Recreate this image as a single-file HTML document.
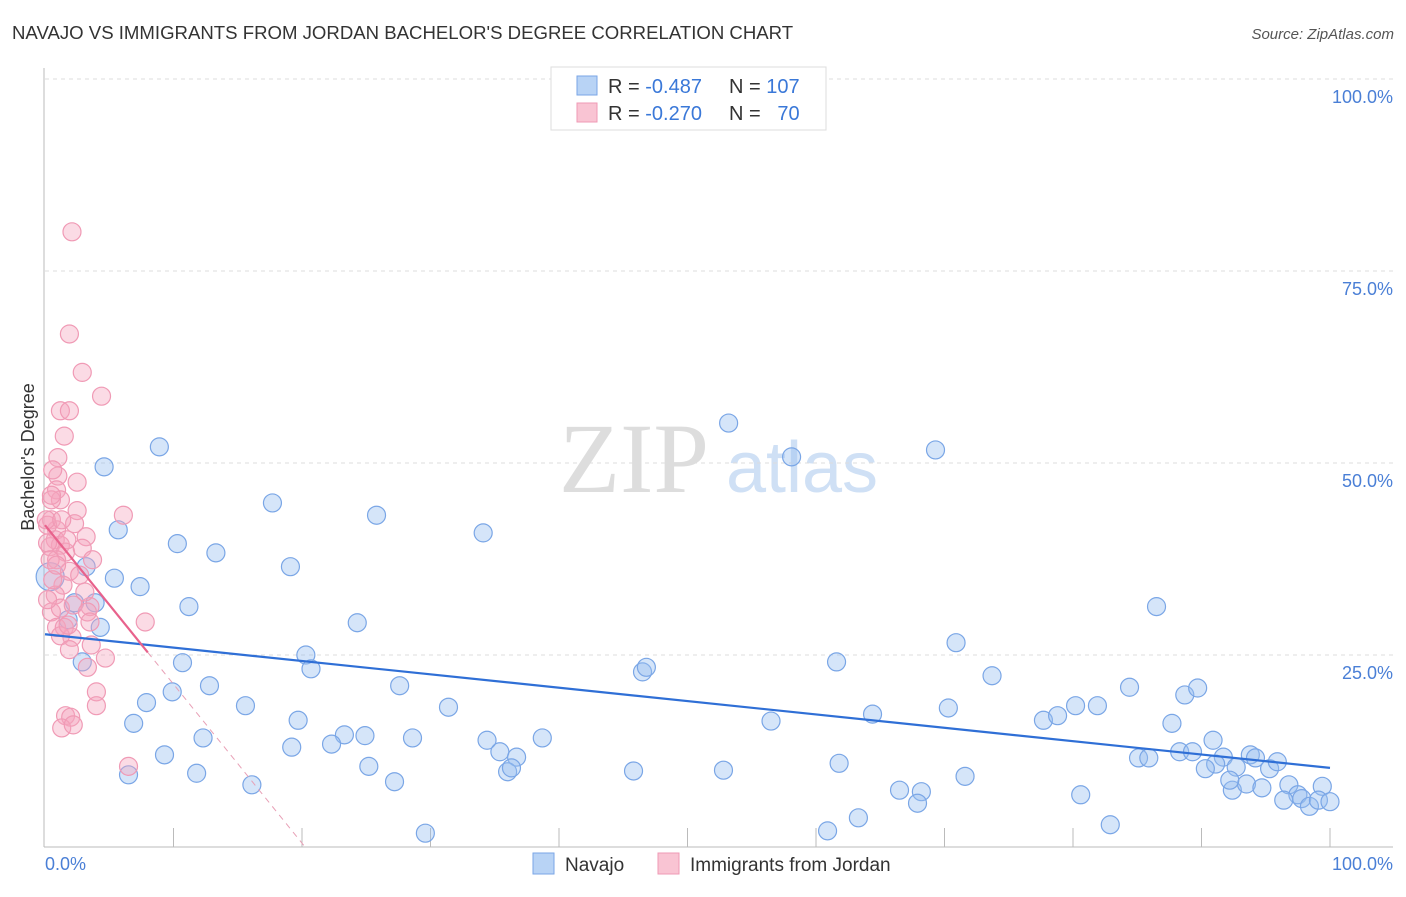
<!DOCTYPE html>
<html><head><meta charset="utf-8"><style>
body{margin:0;background:#fff;font-family:"Liberation Sans",sans-serif}
</style></head><body>
<svg id="c" width="1406" height="892" font-family="Liberation Sans, sans-serif">
<text x="12" y="39" font-size="18.6" fill="#333">NAVAJO VS IMMIGRANTS FROM JORDAN BACHELOR'S DEGREE CORRELATION CHART</text>
<text x="1394" y="39" font-size="15" fill="#555" font-style="italic" text-anchor="end">Source: ZipAtlas.com</text>
<text x="634" y="492" font-size="100" fill="#ddd" style="font-family:'Liberation Serif',serif" text-anchor="middle">ZIP</text>
<text x="802" y="492" font-size="72" fill="#cfe0f5" text-anchor="middle">atlas</text>
<text transform="translate(34,457) rotate(-90)" font-size="18" fill="#333" text-anchor="middle">Bachelor's Degree</text>
<g id="grid"></g><g id="pts"></g><g id="lines"></g>
<g>
<rect x="551" y="67" width="275" height="63" fill="#fff" stroke="#ddd"/>
<rect x="577" y="76" width="20" height="19" fill="#b8d3f5" stroke="#7aa6e6"/>
<rect x="577" y="103" width="20" height="19" fill="#f9c4d3" stroke="#ef9ab4"/>
<text x="608" y="93" font-size="20" fill="#333">R = <tspan fill="#3a78d8">-0.487</tspan></text>
<text x="729" y="93" font-size="20" fill="#333">N = <tspan fill="#3a78d8">107</tspan></text>
<text x="608" y="120" font-size="20" fill="#333">R = <tspan fill="#3a78d8">-0.270</tspan></text>
<text x="729" y="120" font-size="20" fill="#333">N = <tspan fill="#3a78d8">&#160; 70</tspan></text>
</g>
<g>
<rect x="533" y="853" width="21" height="21" fill="#b8d3f5" stroke="#7aa6e6"/>
<text x="565" y="871" font-size="19" fill="#333">Navajo</text>
<rect x="658" y="853" width="21" height="21" fill="#f9c4d3" stroke="#ef9ab4"/>
<text x="690" y="871" font-size="19" fill="#333">Immigrants from Jordan</text>
</g>
</svg>
<script>
const yTicks=[25,50,75,100];
const yTickLabels=["25.0%","50.0%","75.0%","100.0%"];
const navajoX=[4.6,8.9,17.7,25.8,34.1,53.2,58.1,69.3,5.7,10.3,13.3,19.1,5.4,7.4,3.2,11.2,24.3,2.3,3.9,1.8,4.3,2.9,10.7,20.3,20.7,46.5,46.8,61.6,70.9,86.5,12.8,7.9,9.9,15.6,27.6,31.4,6.9,19.7,19.2,12.3,9.3,11.8,16.1,23.3,24.9,22.3,25.2,27.2,28.6,34.4,35.4,36.7,36.0,36.3,38.7,45.8,52.8,56.5,61.8,64.4,70.3,73.7,71.6,66.5,68.2,67.9,63.3,60.9,29.6,77.7,78.8,80.2,81.9,84.4,88.7,89.7,87.7,80.6,82.9,85.1,85.9,88.3,89.3,90.9,91.7,91.1,90.3,92.7,93.8,94.2,95.3,95.9,92.4,93.5,94.7,96.8,97.5,96.4,97.8,98.4,99.4,99.1,100,92.2,6.5,0.4];
const navajoY=[49.5,52.1,44.8,43.2,40.9,55.2,50.8,51.7,41.3,39.5,38.3,36.5,35.0,33.9,36.5,31.3,29.2,31.8,31.8,29.6,28.6,24.1,24.0,25.0,23.2,22.8,23.4,24.1,26.6,31.3,21.0,18.8,20.2,18.4,21.0,18.2,16.1,16.5,13.0,14.2,12.0,9.6,8.1,14.6,14.5,13.4,10.5,8.5,14.2,13.9,12.4,11.7,9.8,10.3,14.2,9.9,10.0,16.4,10.9,17.3,18.1,22.3,9.2,7.4,7.2,5.7,3.8,2.1,1.8,16.5,17.1,18.4,18.4,20.8,19.8,20.7,16.1,6.8,2.9,11.6,11.6,12.4,12.4,13.9,11.7,10.8,10.2,10.4,12.0,11.6,10.2,11.1,7.4,8.2,7.7,8.1,6.8,6.1,6.3,5.3,7.9,6.1,5.9,8.7,9.4,35.2];
const jordanX=[2.1,1.9,2.9,4.4,1.2,1.9,1.5,1.0,1.0,2.5,0.6,0.9,1.2,0.5,2.5,6.1,0.5,2.3,0.9,0.8,3.2,1.2,0.4,1.6,2.9,0.9,1.9,3.7,2.7,1.4,0.8,0.5,1.2,2.2,3.5,3.3,0.9,1.5,2.1,3.5,1.2,1.9,7.8,3.6,4.7,3.3,4.0,4.0,1.6,2.0,1.3,2.2,6.5,0.2,0.4,0.6,0.2,0.5,0.1,0.9,1.8,3.1,1.3,0.2,1.7];
const jordanY=[80.1,66.8,61.8,58.7,56.8,56.8,53.5,50.7,48.3,47.5,49.1,46.5,45.2,45.2,43.8,43.2,42.6,42.1,41.3,40.0,40.4,39.3,39.1,38.4,38.9,37.4,35.9,37.4,35.4,34.1,32.8,30.6,31.1,31.5,31.3,30.6,28.6,28.6,27.3,29.3,27.5,25.7,29.3,26.3,24.6,23.4,20.2,18.4,17.1,16.9,15.5,15.9,10.5,39.6,37.4,34.8,41.9,45.8,42.6,36.7,28.9,33.2,42.6,32.2,40.0];
const navajoTrend=[27.7,10.3];
const jordanTrend=[41.9,-2.07];
const X0=45,X1=1330,Y0=847,Y1=79;
const sx=v=>X0+(X1-X0)*v/100, sy=v=>Y0-(Y0-Y1)*v/100;
const NS="http://www.w3.org/2000/svg";
function mk(p,t,a){const e=document.createElementNS(NS,t);for(const k in a)e.setAttribute(k,a[k]);p.appendChild(e);return e;}
const grid=document.getElementById('grid');
yTicks.forEach((t,i)=>{
 const l=mk(grid,'line',{x1:X0,x2:1393,y1:sy(t),y2:sy(t),stroke:'#ddd','stroke-dasharray':'4,4'});
 
 
 const tx=mk(grid,'text',{x:1393,y:sy(t)+24,'font-size':18,fill:'#4a7fd6','text-anchor':'end'});
 tx.textContent=yTickLabels[i];
 
 
});
const ya=mk(grid,'line',{x1:44,x2:44,y1:68,y2:Y0,stroke:'#bbb'});


const xa=mk(grid,'line',{x1:44,x2:1393,y1:Y0,y2:Y0,stroke:'#bbb'});


for(let k=1;k<=10;k++){const t=mk(grid,'line',{x1:sx(k*10),x2:sx(k*10),y1:Y0,y2:828,stroke:'#bbb'});
 
 }
[["0.0%",45,'start'],["100.0%",1393,'end']].forEach(d=>{const t=mk(grid,'text',{x:d[1],y:870,'font-size':18,fill:'#4a7fd6','text-anchor':d[2]});t.textContent=d[0];
 
 });
const pts=document.getElementById('pts');
navajoX.forEach((x,i)=>{const c=mk(pts,'circle',{cx:sx(x),cy:sy(navajoY[i]),r:i==navajoX.length-1?14:9,fill:'rgba(150,190,240,0.4)',stroke:'#7aa6e6','stroke-width':1.2});
 
 });
jordanX.forEach((x,i)=>{const c=mk(pts,'circle',{cx:sx(x),cy:sy(jordanY[i]),r:9,fill:'rgba(245,165,190,0.4)',stroke:'#f09ab5','stroke-width':1.2});
 
 });
const lines=document.getElementById('lines');
const bl=mk(lines,'line',{x1:sx(0),y1:sy(navajoTrend[0]),x2:sx(100),y2:sy(navajoTrend[1]),stroke:'#2f6fd6','stroke-width':2.2});


const jy=x=>jordanTrend[0]+jordanTrend[1]*x;
const pl=mk(lines,'line',{x1:sx(0),y1:sy(jy(0)),x2:sx(8),y2:sy(jy(8)),stroke:'#e8628c','stroke-width':2.2});


const xe=(0-jordanTrend[0])/jordanTrend[1];
const pd=mk(lines,'line',{x1:sx(8),y1:sy(jy(8)),x2:sx(xe),y2:sy(0),stroke:'#e8a0b6','stroke-width':1,'stroke-dasharray':'6,5'});


</script>
</body></html>
